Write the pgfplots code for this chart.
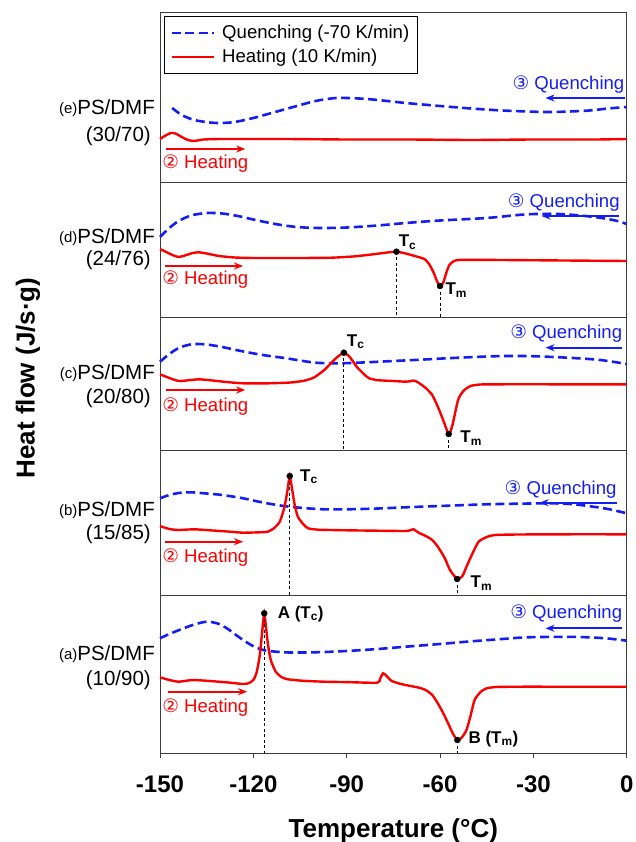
\documentclass[border=0pt]{standalone}
\usepackage{fontspec}
\setmainfont{Liberation Sans}
\newfontfamily\dejavu{DejaVu Sans}
\usepackage{pgfplots}
\pgfplotsset{compat=1.18}
\usetikzlibrary{arrows.meta}
\definecolor{qblue}{RGB}{20,30,240}
\definecolor{hred}{RGB}{250,0,0}
\definecolor{frame}{RGB}{60,60,60}
\pgfplotsset{
 panel/.style={scale only axis, width=466.7pt, anchor=north west,
   xmin=-150, xmax=0, ymin=0, xtick=\empty, ytick=\empty,
   axis line style={draw=frame, line width=1pt}, clip=false},
 quench/.style={qblue, line width=2.6pt, dash pattern=on 9pt off 4.5pt, smooth, tension=0.5},
 heat/.style={hred, line width=2.4pt, smooth, tension=0.35},
 pt/.style={only marks, mark=*, mark size=3pt, black, forget plot},
 vd/.style={black, line width=0.8pt, dash pattern=on 3pt off 2.5pt, forget plot},
 harrow/.style={hred, line width=2pt, -{Stealth[length=9pt,width=7pt]}, forget plot},
 qarrow/.style={qblue, line width=2pt, -{Stealth[length=9pt,width=7pt]}, forget plot},
}
\tikzset{
 htext/.style={text=hred, font=\fontsize{18.6}{22}\selectfont, anchor=west, inner sep=0pt},
 qtext/.style={text=qblue, font=\fontsize{18.6}{22}\selectfont, anchor=east, inner sep=0pt},
 tlab/.style={font=\fontsize{17}{20}\selectfont\bfseries, anchor=west, inner sep=0pt},
 plab/.style={font=\fontsize{20.5}{24}\selectfont, anchor=east, inner sep=0pt},
}
\newcommand\sm[1]{\raisebox{1.5pt}{\fontsize{15}{18}\selectfont(#1)}}
\begin{document}
\begin{tikzpicture}
\useasboundingbox (0pt,0pt) rectangle (635pt,-842pt);
% ---------- panel e ----------
\begin{axis}[panel, at={(160pt,-13pt)}, height=170pt, ymax=170,
  legend style={at={(axis description cs:0.009,0.982)}, anchor=north west, draw=black, line width=0.8pt,
   font=\fontsize{18.6}{22}\selectfont, inner xsep=6pt, inner ysep=7pt, row sep=5pt, /tikz/column sep=5pt},
  legend cell align=left,
  legend image code/.code={\draw[#1] (0pt,0pt) -- (42pt,0pt);}]
\addplot[quench] coordinates {(-146.1,75) (-143,68) (-139,63) (-134,60.5) (-130.4,60) (-126,61) (-120,65) (-113,71) (-106,77) (-100,82) (-93.3,85) (-86,84.5) (-80,83) (-71,80) (-60,77) (-50,74.5) (-40,72.5) (-30,71.3) (-25.5,71) (-20,71.3) (-12,72.5) (-6,74.5) (0,76)};
\addlegendentry{Quenching (-70 K/min)}
\addplot[heat] coordinates {(-150,44) (-148.5,47) (-146.5,50) (-145,49.5) (-143,46) (-141,43) (-139,42) (-136,43.5) (-130,44) (-110,44) (-90,43.5) (-70,43.5) (-50,43) (-30,43.5) (-10,43.5) (0,44)};
\addlegendentry{Heating (10 K/min)}
\addplot[harrow] coordinates {(-148,34) (-122.6,34)};
\addplot[qarrow] coordinates {(-0.7,85) (-26.1,85)};
\node[htext] at (axis cs:-149.3,19) {{\dejavu ②} Heating};
\node[qtext] at (axis cs:-0.7,98) {{\dejavu ③} Quenching};
\end{axis}
% ---------- panel d ----------
\begin{axis}[panel, at={(160pt,-183pt)}, height=134pt, ymax=134]
\addplot[quench] coordinates {(-150,80) (-147,89) (-144,96) (-140,101.5) (-135,104) (-130,103.5) (-125,101) (-120,97.5) (-113,93) (-106,90) (-98.5,89) (-90,89.5) (-80,91.5) (-71,94) (-60,96.5) (-45,99) (-35,102) (-29.4,103) (-22,103) (-15,101.5) (-8,99) (-3,96) (0,93)};
\addplot[heat] coordinates {(-150,68) (-148,65) (-146,62) (-144,60) (-142,61.5) (-139.5,64) (-137.6,64.7) (-135,63.5) (-131,61) (-126,59.5) (-120,59) (-105,59) (-95,59.3) (-88,60.5) (-82,62.5) (-77,64.5) (-74,65.3) (-71,63.5) (-67,60) (-65,58) (-63.5,53) (-62,44) (-61,36) (-60,31) (-59,34) (-58,44) (-57,52) (-55.5,56) (-54,57) (-50,57.2) (-40,57) (-20,56.5) (0,56)};
\addplot[vd] coordinates {(-74,65.3) (-74,0)};
\addplot[vd] coordinates {(-60,31) (-60,0)};
\addplot[pt] coordinates {(-74,65.3) (-60,31)};
\addplot[harrow] coordinates {(-148.4,51) (-123.3,51)};
\addplot[qarrow] coordinates {(-2.6,101) (-27.4,101)};
\node[htext] at (axis cs:-149.3,37) {{\dejavu ②} Heating};
\node[qtext] at (axis cs:-2.2,114) {{\dejavu ③} Quenching};
\node[tlab] at (axis cs:-73.3,75) {T\textsubscript{c}};
\node[tlab] at (axis cs:-58.3,27) {T\textsubscript{m}};
\end{axis}
% ---------- panel c ----------
\begin{axis}[panel, at={(160pt,-317pt)}, height=133pt, ymax=133]
\addplot[quench] coordinates {(-150,88.3) (-147,96) (-144,102) (-141,105) (-138.9,106) (-135,105.5) (-130,103) (-124,99) (-117,95) (-110,92) (-103,88.5) (-98.5,87) (-92,86.7) (-85,87.5) (-75,89) (-65,90.5) (-58,91.7) (-45,93.5) (-38.5,94) (-30,93.8) (-19,92.3) (-10,90.5) (-5,88.5) (0,86)};
\addplot[heat] coordinates {(-150,75.7) (-147,72) (-144,69) (-141,69.7) (-137.6,70.7) (-134,69.8) (-128,67.8) (-123.3,66.7) (-115,66.7) (-108,67.5) (-103.7,69.3) (-100.5,72.5) (-97.2,80) (-95,87) (-93,93) (-90.9,97.3) (-89,93) (-86.8,83.3) (-84.5,76) (-82.8,71.7) (-80,69.8) (-75,69) (-71.1,68.3) (-69.5,68.8) (-68.5,69.5) (-67,67.5) (-64.6,62) (-62.5,55) (-60.7,43.3) (-59,30) (-57.2,16) (-56,25) (-54.2,50) (-52.5,59) (-50.2,64) (-47,65.5) (-40,65.7) (-20,65.7) (0,65.7)};
\addplot[vd] coordinates {(-90.9,97.3) (-90.9,0)};
\addplot[vd] coordinates {(-57.2,16) (-57.2,0)};
\addplot[pt] coordinates {(-90.9,97.3) (-57.2,16)};
\addplot[harrow] coordinates {(-148,60) (-122.6,60)};
\addplot[qarrow] coordinates {(-1.4,102.3) (-26.1,102.3)};
\node[htext] at (axis cs:-149.3,43.3) {{\dejavu ②} Heating};
\node[qtext] at (axis cs:-1.4,116.7) {{\dejavu ③} Quenching};
\node[tlab] at (axis cs:-90,108.3) {T\textsubscript{c}};
\node[tlab] at (axis cs:-53.5,12) {T\textsubscript{m}};
\end{axis}
% ---------- panel b ----------
\begin{axis}[panel, at={(160pt,-450pt)}, height=145pt, ymax=145]
\addplot[quench] coordinates {(-150,96.7) (-147,100) (-144,102) (-140.2,102.7) (-135,101.5) (-130,100) (-123.3,96.7) (-117,92.5) (-110.2,89) (-104,87) (-97.2,85.7) (-90,85.7) (-80,86.5) (-71.1,87.7) (-60,89) (-45,90.7) (-35,91.3) (-25.5,91.7) (-18,91) (-12.4,89) (-6,86) (0,81.7)};
\addplot[heat] coordinates {(-150,69) (-147,66) (-144,65) (-139,65.7) (-133,64.5) (-127,63.2) (-123.3,62.3) (-118,62.7) (-115.4,63.3) (-113.5,66.5) (-111.5,73.3) (-110,88) (-109,105) (-108.3,119) (-107.5,105) (-106.7,90) (-105.7,78.3) (-104,71) (-102.4,66.7) (-99,65.3) (-90,64.7) (-80,64.3) (-71.1,64) (-69.5,64.8) (-68.5,65.7) (-67,62.5) (-64.6,59) (-62.5,55) (-60.7,48.3) (-58.5,37) (-56.8,25) (-54.5,16) (-52.8,19) (-51.5,28.3) (-49.5,42) (-47.6,53.3) (-45,58) (-42.4,60) (-35,60.5) (-20,60.7) (0,60.7)};
\addplot[vd] coordinates {(-108.3,119) (-108.3,0)};
\addplot[vd] coordinates {(-54.5,16) (-54.5,0)};
\addplot[pt] coordinates {(-108.3,119) (-54.5,16)};
\addplot[harrow] coordinates {(-148.4,53.3) (-123.3,53.3)};
\addplot[qarrow] coordinates {(-3.2,92.3) (-28,92.3)};
\node[htext] at (axis cs:-149.3,37.3) {{\dejavu ②} Heating};
\node[qtext] at (axis cs:-3.2,105.7) {{\dejavu ③} Quenching};
\node[tlab] at (axis cs:-105,118.3) {T\textsubscript{c}};
\node[tlab] at (axis cs:-50.2,11.7) {T\textsubscript{m}};
\end{axis}
% ---------- panel a ----------
\begin{axis}[panel, at={(160pt,-595pt)}, height=158pt, ymax=158,
  xtick={-150,-120,-90,-60,-30,0}, xticklabels={-150,-120,-90,-60,-30,0},
  xtick pos=bottom, tick align=outside, major tick length=5pt,
  tick style={draw=frame, line width=1pt},
  xticklabel style={font=\fontsize{24}{28}\selectfont\bfseries, yshift=-14pt}]
\addplot[quench] coordinates {(-150,114.7) (-147,119) (-143,124) (-139,128.5) (-135,131.3) (-131.5,129.5) (-128.5,124.7) (-126,119) (-123.3,113) (-121,108.5) (-119.4,105.7) (-116,102.5) (-110.2,100.7) (-104,100.5) (-97.2,101) (-90,102) (-80,104) (-71.1,106.3) (-60,109) (-51.5,111.3) (-40,114) (-32,115.7) (-20,116.2) (-12.4,115.7) (-6,114.5) (0,112.3)};
\addplot[heat] coordinates {(-150,75.7) (-147,73) (-144.1,71.3) (-141,72.5) (-138.9,73) (-134,72) (-128,70.5) (-123.3,69) (-121.5,69.8) (-120,73) (-119,80) (-118,96.3) (-117.2,120) (-116.5,139.7) (-115.9,125) (-115.2,106.3) (-114.3,92) (-112.8,81.3) (-111,76) (-108.9,73.7) (-104,72.2) (-97.2,71.3) (-90,70.9) (-80.2,70.3) (-79.3,74) (-78.3,79.7) (-77,76.5) (-75.7,72.3) (-73.5,69.8) (-71.1,68) (-67,65.5) (-64.6,63) (-62.5,58) (-60.7,49.7) (-59,40) (-57.4,29.7) (-55.8,19) (-54.4,13) (-53,15.5) (-51.5,23) (-50.2,37) (-48.9,53) (-47,61) (-45,64.7) (-42,66) (-35,66.3) (-20,66.3) (0,66.3)};
\addplot[vd] coordinates {(-116.5,139.7) (-116.5,0)};
\addplot[vd] coordinates {(-54.4,13) (-54.4,0)};
\addplot[pt] coordinates {(-116.5,139.7) (-54.4,13)};
\addplot[harrow] coordinates {(-147.4,61.3) (-122,61.3)};
\addplot[qarrow] coordinates {(-1.4,124.7) (-26.1,124.7)};
\node[htext] at (axis cs:-149.3,45.7) {{\dejavu ②} Heating};
\node[qtext] at (axis cs:-1.4,139) {{\dejavu ③} Quenching};
\node[tlab] at (axis cs:-112.2,139) {A (T\textsubscript{c})};
\node[tlab] at (axis cs:-50.9,14) {B (T\textsubscript{m})};
\node[anchor=base, font=\fontsize{26}{30}\selectfont\bfseries] at (rel axis cs:0.5,0) [yshift=-84pt] {Temperature (°C)};
\end{axis}
% ---------- labels ----------
\node[rotate=90, font=\fontsize{26}{30}\selectfont\bfseries] at (28pt,-378pt) {Heat flow (J/s·g)};
\node[plab] at (155pt,-108pt) {\sm{e}PS/DMF};
\node[plab] at (151pt,-136pt) {(30/70)};
\node[plab] at (155pt,-237pt) {\sm{d}PS/DMF};
\node[plab] at (151pt,-260pt) {(24/76)};
\node[plab] at (155pt,-373pt) {\sm{c}PS/DMF};
\node[plab] at (151pt,-398pt) {(20/80)};
\node[plab] at (155pt,-510pt) {\sm{b}PS/DMF};
\node[plab] at (151pt,-534pt) {(15/85)};
\node[plab] at (155pt,-654pt) {\sm{a}PS/DMF};
\node[plab] at (151pt,-680pt) {(10/90)};
\end{tikzpicture}
\end{document}
